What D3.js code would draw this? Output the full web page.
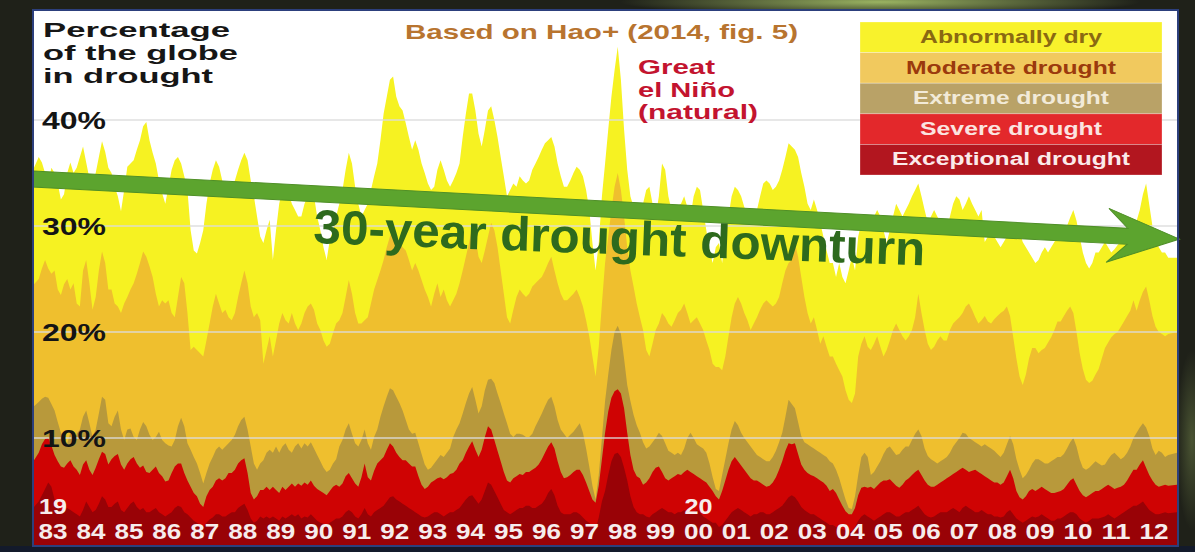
<!DOCTYPE html>
<html>
<head>
<meta charset="utf-8">
<title>Percentage of the globe in drought</title>
<script src="https://cdn.jsdelivr.net/npm/d3@7"></script>
<style>
    html, body { margin: 0; padding: 0; background: #1d1f17; }
    svg { display: block; }
    text { font-family: "Liberation Sans", Arial, sans-serif; font-weight: bold; }
</style>
</head>
<body>
<svg id="chart" width="1195" height="552"></svg>
<script>
// Monthly share of the globe (%) in each class or worse, Jan 1983 - Dec 2012 (one row per year)
const abnormallyDry = [
    35.5, 36.5, 36, 35, 34, 35.5, 35, 34, 32.5, 33, 35, 36,
    35, 35.5, 36.5, 37.5, 36, 34.5, 34, 35, 36.5, 38, 37, 35.5,
    35, 33.7, 32.8, 31.4, 33.4, 35.6, 35.9, 36.2, 37.2, 38.1, 39.4, 39.8,
    38.1, 36.9, 35.9, 34.3, 33.1, 32.1, 33.7, 35.3, 36.2, 36.5, 35.9, 34.7,
    33.4, 29.6, 27.7, 27.4, 28.4, 29.6, 32.1, 34, 35.3, 36.2, 35.6, 34.3,
    32.8, 33.1, 33.7, 34.3, 35.3, 36.2, 36.9, 36.2, 34.3, 32.8, 30.9, 29,
    28.4, 29.6, 30.6, 26.8, 29.6, 32.1, 33.4, 33.7, 33.1, 32.1, 31.5, 30.9,
    30.9, 32.1, 32.8, 33.4, 32.8, 30.9, 29.6, 28, 26.8, 28.7, 29.6, 30.9,
    32.1, 33.4, 35.3, 36.9, 35.9, 33.7, 32.1, 30.9, 31.5, 32.1, 33.4, 34.7,
    35.9, 38.1, 40.6, 42.2, 43.8, 44.1, 42.2, 41.3, 40.9, 39.7, 38.4, 37.2,
    38.1, 37.2, 35.9, 35, 34, 33.4, 33.7, 35.3, 36.2, 35.3, 34.3, 33.7,
    34.3, 35, 35.9, 38.4, 40.6, 42.5, 42.5, 40.9, 38.7, 37.5, 39.1, 40.9,
    41.3, 40, 38.4, 36.5, 34.7, 32.8, 33.4, 34, 33.7, 34.7, 34.3, 34,
    34.3, 35.3, 35.9, 36.5, 37.2, 37.8, 38.1, 38.4, 37.5, 35.9, 34.7, 33.7,
    33.7, 34.3, 35, 35.6, 35.3, 34.7, 33.4, 31.5, 28.4, 25.8, 28.4, 32.8,
    35.9, 39.1, 42.2, 44.7, 46.9, 43.8, 39.1, 35.3, 32.8, 31.8, 30.9, 31.5,
    32.1, 33.4, 33.7, 32.1, 30.9, 32.8, 35.9, 35.3, 32.8, 31.5, 30.9, 31.9,
    32.1, 32.8, 31.8, 30.9, 32.8, 33.7, 33.4, 31.5, 29.6, 27.7, 26.5, 28,
    28.4, 26.5, 29, 30.9, 32.8, 33.7, 33.4, 32.8, 31.8, 30.9, 30.3, 30.9,
    31.5, 32.8, 34, 34.3, 34, 33.4, 33.7, 34.3, 35.3, 36.5, 37.8, 37.5,
    37.2, 36.5, 35, 33.7, 32.1, 31.5, 32.5, 31.5, 30.3, 29, 27.7, 26.5,
    26.5, 25.2, 26.5, 25.2, 24.6, 25.8, 27.1, 25.8, 29, 30.3, 30.9, 30.3,
    29.6, 30.9, 31.5, 30.9, 29.6, 28.4, 29.6, 30.9, 32.1, 31.5, 30.9, 31.5,
    32.1, 32.8, 33.4, 34, 32.8, 31.5, 30.3, 30.9, 31.5, 30.9, 30.3, 29.6,
    29.6, 30.9, 32.1, 32.8, 32.5, 31.5, 32.1, 32.8, 32.1, 31.5, 30.9, 31.5,
    28.5, 29, 29.5, 29, 28.5, 28, 28.5, 29, 29.5, 30, 30.2, 29.5,
    28.5, 28, 27.5, 27, 26.5, 26.8, 27.5, 28, 27.5, 28, 28.5, 29,
    29, 29.5, 30, 30.8, 31.5, 30.5, 29, 27.5, 26.5, 26, 26.5, 27.5,
    27.5, 28, 28.5, 28, 27.5, 27.8, 28.2, 28.5, 29, 29.5, 30, 30.5,
    30.5, 31.5, 33, 34, 32, 30, 29, 28, 27.5, 27.5, 27, 27
];

const moderate = [
    24.5, 25, 26, 26.8, 26, 25.5, 25.8, 24, 23.5, 24.5, 25, 24,
    24.6, 22.7, 22.4, 25.8, 26.8, 24.6, 22.1, 23.3, 25.8, 27.6, 26.5, 24,
    24, 22.7, 22.4, 21.8, 22.7, 23.3, 24, 24.6, 25.5, 26.5, 27.6, 27.1,
    26.2, 25.2, 23.6, 22.4, 23, 22.7, 23, 21.8, 21.4, 23.3, 25.2, 24.6,
    21.8, 18.3, 18.6, 18.3, 18, 17.7, 19.2, 20.8, 22.4, 23.6, 22.7, 21.8,
    22.1, 21.4, 21.1, 21.8, 23.3, 24.6, 25.8, 24.6, 22.4, 21.4, 21.8, 21.1,
    17, 18.3, 19.6, 17.7, 19.2, 20.8, 21.8, 21.1, 20.8, 21.8, 20.8, 20.2,
    20.8, 21.8, 22.4, 22.7, 22.1, 20.8, 20.2, 19.2, 18.6, 18.9, 19.9, 20.8,
    21.1, 21.8, 23.3, 24.9, 23.6, 21.8, 20.8, 20.8, 21.1, 21.4, 22.7, 24,
    24.9, 25.8, 26.8, 28, 29, 29.6, 28.7, 28.4, 28, 27.7, 26.8, 25.8,
    26.5, 25.8, 24.9, 24, 23.3, 22.4, 23.6, 24.6, 23.3, 24, 23, 22.4,
    23, 23.6, 24.6, 25.8, 27.1, 28.4, 29.9, 29, 27.1, 26.5, 27.7, 29,
    30.3, 29.6, 28, 25.8, 23.6, 21.4, 20.8, 22.1, 23.3, 24, 23.6, 23.3,
    23.6, 24.3, 24.6, 24.9, 25.2, 25.8, 26.5, 27.1, 25.8, 24.6, 23.6, 23,
    23, 23.3, 23.6, 24, 23.3, 22.4, 21.1, 19.6, 17.7, 15.8, 18.6, 22.7,
    26.5, 29, 31.5, 33.7, 35, 33.4, 30.9, 28, 25.8, 24.3, 22.7, 21.4,
    20.2, 18.3, 17.7, 18.9, 20.2, 20.8, 21.8, 21.4, 20.8, 20.5, 21.1, 21.8,
    22.1, 22.7, 21.8, 20.8, 21.1, 21.4, 20.8, 20.2, 19.2, 18.3, 17, 16.7,
    16.7, 16.4, 17.7, 19.6, 21.4, 22.7, 23.3, 22.7, 21.8, 21.1, 20.2, 20.8,
    21.4, 22.1, 22.7, 23, 22.7, 22.4, 22.7, 23.3, 24.6, 25.8, 26.5, 26.8,
    28.4, 27.1, 25.2, 23.3, 21.8, 20.8, 21.4, 20.2, 18.9, 19.6, 18.6, 17.7,
    17.7, 17, 16.4, 15.8, 14.5, 13.6, 13.3, 14.2, 17.7, 18.9, 19.6, 18.6,
    18.3, 18.9, 19.6, 18.6, 17.7, 18.3, 19.2, 20.2, 20.8, 20.2, 19.6, 19.2,
    19.6, 20.2, 21.4, 23.6, 21.8, 20.2, 18.9, 18.3, 18.6, 19.2, 19.6, 19.2,
    19.2, 20.2, 20.8, 21.1, 21.4, 21.8, 22.4, 22.7, 22.1, 21.4, 20.8, 21.1,
    21.5, 21, 20.8, 21.2, 21.5, 21.8, 22, 22.4, 21.5, 19.5, 17.5, 15.8,
    15, 16, 17.5, 18.5, 18.5, 18, 18.3, 18.5, 19, 19.5, 20.2, 21,
    21, 21.5, 22, 22.4, 21.8, 20, 18, 16.5, 15.5, 15.2, 15.4, 16,
    16.5, 17.5, 18.5, 19, 19.5, 19.8, 20, 20.5, 21, 21.5, 22, 23,
    22, 23, 23.8, 24.3, 23, 21.5, 20.5, 20, 19.8, 19.6, 19.8, 20
];

const extreme = [
    13, 13.4, 13.7, 13.9, 13.8, 13.2, 12.6, 11.5, 10.5, 9.8, 9.5, 10.5,
    9.5, 10.4, 10.8, 12, 12.6, 11.4, 10.1, 10.8, 12.3, 13.9, 13.6, 11.4,
    11.1, 12, 12.6, 10.8, 9.8, 10.8, 10.9, 10.1, 9.8, 10.8, 11.5, 11.1,
    10.3, 9.8, 10.1, 10.6, 9.8, 9.5, 9.3, 9.2, 9.8, 11.1, 11.9, 11.1,
    9.5, 8.9, 8.2, 7.6, 6.7, 5.7, 6.7, 7.6, 8.2, 8.9, 9.2, 8.9,
    9.2, 9.5, 9.8, 10.3, 11.1, 11.7, 12, 10.8, 9.2, 7.6, 7, 7.6,
    7.9, 8.6, 8.9, 8.6, 9.2, 8.6, 9.2, 9.5, 8.9, 8.6, 9.2, 9.5,
    9, 9.5, 9.2, 9.6, 9, 8.4, 7.8, 7.2, 6.8, 7, 7.6, 8,
    9.2, 9.8, 10.8, 11.4, 10.4, 9.5, 9.2, 9.8, 10.8, 9.5, 8.9, 10.1,
    10.8, 12, 13, 13.9, 14.7, 14.5, 13.9, 13.3, 12.6, 11.7, 10.8, 10.4,
    10.5, 9.5, 8.5, 7.5, 7, 7.2, 7.6, 8, 8.4, 8.2, 8.6, 9,
    10.1, 10.8, 11.4, 12.3, 13.3, 14.2, 14.8, 13.6, 12.3, 13, 14.5, 15.5,
    15.6, 15.2, 14.2, 13.3, 12.3, 11.4, 10.4, 10.1, 10.4, 10.4, 10.3, 10.1,
    10.1, 10.4, 11.1, 11.7, 12.3, 13, 13.6, 13.9, 13, 11.7, 10.8, 10.4,
    10, 10.3, 10.6, 11, 11.4, 10.5, 9, 7.3, 5.5, 4.2, 6.5, 10,
    13.5, 16, 18.3, 20, 20.6, 19.8, 17.5, 15, 13.5, 12.2, 11.2, 10.5,
    9.6, 9, 9.2, 9.6, 10, 10.5, 10.2, 9.5, 8.8, 8.6, 8.4, 8.6,
    8.4, 9, 10, 10.5, 10, 9.4, 9.2, 9, 8.6, 7.6, 6.3, 5.2,
    5, 6.5, 8, 9.5, 10.8, 11.6, 11.2, 10.5, 10, 9.6, 9.2, 8.8,
    8.4, 8.2, 8, 7.8, 7.8, 8.2, 8.8, 9.6, 10.5, 12, 13.6, 13.2,
    12.8, 11.5, 10.2, 9.6, 9.4, 9.2, 9, 8.8, 8.6, 8.4, 8.2, 7.8,
    7.6, 7, 6.2, 5.2, 4.2, 3.4, 3.3, 4.5, 6.5, 8.2, 8.6, 8.2,
    6.5, 6.8, 7.3, 7.8, 8.5, 9, 9.2, 8.8, 8.4, 8.5, 8.9, 9.2,
    9.2, 9.8, 10.4, 10.8, 10.2, 9, 8.3, 8, 7.8, 7.6, 7.8, 8,
    8.2, 8.6, 9.2, 9.6, 10, 10.5, 10.4, 10, 9.8, 9.6, 9.4, 9.2,
    9.4, 9.2, 9, 8.8, 8.5, 8.2, 8.6, 9.4, 10.2, 9.4, 8, 7,
    6.2, 6.5, 7, 7.6, 8, 8, 7.8, 7.6, 7.6, 7.8, 8, 8.2,
    8.2, 8.5, 9, 9.6, 10, 9.2, 8, 7.2, 7, 7.2, 7.5, 7.8,
    7.6, 7.4, 7.5, 8, 8.4, 8.6, 8.3, 8, 8.2, 8.6, 9.2, 10,
    10.5, 11, 11.4, 11, 10.2, 9, 8.4, 8.8, 8.6, 8.2, 8.4, 8.6
];

const severe = [
    7.9, 8.6, 9.4, 9.9, 10, 9.3, 8.4, 7.8, 7.3, 7.2, 7.6, 7.9,
    7.3, 7, 6.5, 7.5, 7.9, 7, 6.5, 7.2, 8, 8.7, 8.5, 7.5,
    8, 8.3, 8.5, 7.5, 7, 7.6, 8, 8.2, 7.6, 7.2, 7.4, 6.8,
    6.7, 7, 7.3, 6.7, 6.4, 5.9, 6, 6.7, 7.3, 7.6, 7.6, 6.7,
    6, 5.4, 4.8, 4.5, 3.8, 3.5, 4.5, 5.1, 5.4, 6, 6.2, 6,
    6.2, 6.7, 6.7, 7, 7.6, 7.9, 8.1, 6.7, 4.8, 4.2, 4.5, 5.1,
    5.1, 5.4, 5.1, 5.4, 5.1, 4.8, 5.4, 5.1, 5.4, 5.7, 5.4, 5.7,
    5.5, 5.8, 5.6, 6, 5.5, 5.2, 5, 4.8, 4.6, 5, 5.4, 5.6,
    5.4, 5.7, 6.4, 6.7, 6.2, 5.7, 5.4, 6.3, 7.6, 6.3, 6, 6.9,
    7.6, 7.9, 8.2, 8.9, 9.5, 9.2, 8.6, 8.2, 7.9, 7.9, 7.6, 7.3,
    7.3, 6.4, 5.6, 5.2, 5.4, 5.8, 6, 6.2, 6.3, 6.1, 6.3, 6.6,
    6.7, 7, 7.6, 7.9, 8.6, 9.2, 9.7, 8.9, 8.2, 8.9, 10.1, 11.1,
    10.8, 9.8, 8.8, 7.8, 6.8, 6, 5.8, 6.2, 6.4, 6.6, 6.5, 6.8,
    6.8, 7, 7.2, 7.5, 8, 8.6, 9.2, 9.6, 9, 7.8, 6.8, 6.2,
    6.3, 6.5, 6.8, 7, 7, 6.5, 5.8, 5, 4.2, 3.9, 5.5, 8,
    10.5, 12.5, 13.8, 14.4, 14.6, 14.2, 12.8, 10.5, 8.4, 7, 6.4, 6.2,
    5.6, 5.8, 6.2, 6.8, 7.2, 7.3, 6.8, 6.2, 6, 6.2, 6.4, 6.6,
    6.5, 6.8, 7, 6.8, 6.6, 6.4, 6.2, 6, 5.8, 5.4, 5, 4.5,
    4.2, 5, 6, 7, 7.8, 8.2, 7.8, 7.4, 7, 6.6, 6.2, 6,
    6, 5.8, 5.6, 5.4, 5.5, 5.8, 6.3, 7, 7.8, 8.8, 9.5, 9.4,
    9.5, 8.5, 7.5, 7, 6.7, 6.5, 6.4, 6.2, 6, 5.8, 5.5, 5,
    5.2, 4.8, 4.2, 3.6, 3.1, 2.8, 2.8, 3.4, 4.6, 5.3, 5.4, 5.3,
    5.4, 5.2, 5.5, 5.8, 6, 6, 6.1, 5.8, 5.5, 5.3, 5.6, 6,
    6.2, 6.5, 6.8, 7, 6.5, 6, 5.6, 5.4, 5.4, 5.6, 5.8, 6,
    6.2, 6.4, 6.6, 6.8, 7, 7.2, 7, 6.8, 6.9, 7, 6.8, 6.6,
    6.4, 6.2, 6, 5.8, 5.8, 5.6, 5.8, 6.4, 7, 6.2, 5, 4.4,
    4.2, 4.5, 5, 5.2, 5, 5.2, 5.4, 5.2, 5, 4.8, 4.8, 4.9,
    5, 5.2, 5.6, 6, 6.2, 5.6, 5, 4.6, 4.4, 4.6, 4.8, 5,
    5, 5.2, 5.4, 5.6, 5.4, 5.2, 5.3, 5.4, 5.6, 6, 6.5, 7,
    7, 7.5, 7.9, 7.2, 6.5, 6, 5.6, 5.4, 5.5, 5.6, 5.5, 5.6
];

const exceptional = [
    3.5, 4, 4.6, 5.2, 5.8, 5.4, 4.2, 3.6, 3.2, 3.2, 3.4, 3.2,
    3, 2.8, 2.6, 3.2, 4, 3.5, 3, 3.2, 3.8, 4.5, 4.2, 3.5,
    3.5, 3.8, 4, 3.2, 3, 3.4, 3.8, 4, 3.5, 3.2, 3.4, 3,
    3, 3.2, 3.4, 3, 2.8, 2.6, 2.8, 3, 3.4, 3.6, 3.5, 3,
    2.8, 2.5, 2.2, 2, 1.8, 1.6, 2, 2.3, 2.5, 2.8, 2.8, 2.6,
    2.6, 2.8, 3, 3, 3.4, 3.6, 3.8, 3.2, 2.4, 2, 2.2, 2.6,
    2.4, 2.6, 2.4, 2.6, 2.4, 2.2, 2.6, 2.4, 2.6, 2.8, 2.6, 2.8,
    2.4, 2.6, 2.5, 2.8, 2.5, 2.2, 2, 1.9, 1.8, 2, 2.2, 2.4,
    2.4, 2.6, 3, 3.2, 3, 2.6, 2.4, 2.8, 3.4, 2.8, 2.6, 3,
    3.2, 3.4, 3.6, 4, 4.4, 4.5, 4.2, 4, 3.8, 3.6, 3.4, 3.2,
    3, 2.8, 2.6, 2.5, 2.6, 2.8, 3, 3, 2.8, 2.6, 2.8, 3,
    3, 3.2, 3.4, 3.8, 4.2, 4.5, 4.6, 4.2, 3.8, 4.2, 5, 5.8,
    5.6, 5, 4.4, 3.8, 3.2, 3, 2.8, 3, 3.2, 3.4, 3.4, 3.6,
    3.6, 3.4, 3.4, 3.6, 3.8, 4.2, 4.8, 5.2, 4.6, 3.6, 3, 2.8,
    2.8, 2.8, 3, 3, 2.8, 2.5, 2.2, 2, 1.6, 1.4, 2.5, 4,
    5, 6.5, 7.8, 8.5, 8.6, 8.2, 7.2, 6, 4.5, 3.5, 3, 2.8,
    2.8, 2.6, 2.5, 2.8, 3, 3.2, 3.4, 3.2, 3, 3, 2.8, 3,
    3, 3.2, 3, 2.8, 3, 3.2, 3, 2.6, 2.4, 2.2, 2, 2,
    1.6, 1.8, 2.2, 2.6, 3, 3.2, 3.4, 3.2, 3, 2.8, 2.6, 2.8,
    2.8, 3, 3, 2.8, 2.8, 3, 3.2, 3.4, 3.6, 4, 4.4, 4.6,
    4.4, 4, 3.5, 3.2, 3, 2.8, 2.8, 2.6, 2.4, 2.2, 2, 1.8,
    1.8, 1.6, 1.5, 1.4, 1.3, 1.2, 1.2, 1.6, 2.2, 2.6, 2.8, 2.6,
    2.4, 2.2, 2.4, 2.6, 2.8, 3, 3, 2.8, 2.6, 2.6, 2.8, 3,
    3, 3.2, 3.4, 3.6, 3.2, 2.8, 2.6, 2.5, 2.6, 2.8, 3, 3,
    3, 3.2, 3.4, 3.2, 3, 3.4, 3.6, 3.4, 3.2, 3, 3, 3.2,
    3, 2.8, 2.8, 2.6, 2.6, 2.5, 2.6, 3, 3.2, 2.8, 2.4, 2.2,
    2, 2.2, 2.4, 2.6, 2.5, 2.6, 2.8, 2.6, 2.4, 2.2, 2.2, 2.4,
    2.4, 2.6, 2.8, 3, 3, 2.8, 2.4, 2.2, 2, 2.2, 2.4, 2.4,
    2.4, 2.5, 2.6, 2.8, 2.6, 2.4, 2.6, 2.8, 3, 3.2, 3.4, 3.6,
    3.6, 3.8, 4, 3.6, 3.2, 3, 2.8, 2.8, 2.9, 3, 2.9, 3
];

const startYear = 1983;
const yearLabels = ['83', '84', '85', '86', '87', '88', '89', '90', '91', '92', '93', '94', '95', '96', '97',
    '98', '99', '00', '01', '02', '03', '04', '05', '06', '07', '08', '09', '10', '11', '12'];
const centuryLabels = [{ year: 1983, text: '19' }, { year: 2000, text: '20' }];
const yTicks = [10, 20, 30, 40];

const legendLabels = ['Abnormally dry', 'Moderate drought', 'Extreme drought', 'Severe drought', 'Exceptional drought'];
const titleLines = ['Percentage', 'of the globe', 'in drought'];
const ninoLines = ['Great', 'el Niño', '(natural)'];

// ---- layout ----
const W = 1195, H = 552;
const panel = { left: 33, top: 10, right: 1178, bottom: 546 };
const plot = { left: 34, right: 1177, bottom: 544 };

const svg = d3.select('#chart');
const defs = svg.append('defs');

// dark slide background with a green glow at the top edge
const glow = defs.append('radialGradient').attr('id', 'glow')
    .attr('cx', 0.5).attr('cy', 0.5).attr('r', 0.5);
glow.append('stop').attr('offset', '0%').attr('stop-color', '#a8c46a').attr('stop-opacity', 0.9);
glow.append('stop').attr('offset', '100%').attr('stop-color', '#a8c46a').attr('stop-opacity', 0);

svg.append('rect').attr('width', W).attr('height', H).attr('fill', '#1f2119');
svg.append('ellipse').attr('cx', 880).attr('cy', 2).attr('rx', 260).attr('ry', 14).attr('fill', 'url(#glow)');
svg.append('ellipse').attr('cx', 1192).attr('cy', 440).attr('rx', 16).attr('ry', 90).attr('fill', 'url(#glow)').attr('opacity', 0.35);
svg.append('rect').attr('x', 0).attr('y', 546).attr('width', W).attr('height', 6).attr('fill', '#131a2b');

// white panel
svg.append('rect')
    .attr('x', panel.left).attr('y', panel.top)
    .attr('width', panel.right - panel.left).attr('height', panel.bottom - panel.top)
    .attr('fill', '#ffffff');

defs.append('clipPath').attr('id', 'plot-clip').append('rect')
    .attr('x', panel.left).attr('y', panel.top)
    .attr('width', panel.right - panel.left).attr('height', plot.bottom - panel.top + 2);

// ---- scales ----
const x = d3.scaleLinear().domain([startYear, startYear + 30]).range([plot.left, 1173]);
const y = d3.scaleLinear().domain([0, 40]).range([plot.bottom, 120]);

const n = abnormallyDry.length;
const monthX = i => {
    if (i === 0) return plot.left;
    if (i === n - 1) return plot.right;
    return x(startYear + (i + 0.5) / 12);
};

const series = [
    { name: 'abnormallyDry', values: abnormallyDry, color: '#f6f222' },
    { name: 'moderate', values: moderate, color: '#efbf2e' },
    { name: 'extreme', values: extreme, color: '#b8993b' },
    { name: 'severe', values: severe, color: '#cf0303' },
    { name: 'exceptional', values: exceptional, color: '#990206' }
];

const area = d3.area()
    .x((d, i) => monthX(i))
    .y0(plot.bottom + 2)
    .y1(d => y(d))
    .curve(d3.curveLinear);

const plotG = svg.append('g').attr('clip-path', 'url(#plot-clip)');
plotG.selectAll('path.layer')
    .data(series)
    .enter().append('path')
    .attr('class', 'layer')
    .attr('fill', d => d.color)
    .attr('d', d => area(d.values));

// gridlines over the areas
plotG.selectAll('line.grid')
    .data(yTicks)
    .enter().append('line')
    .attr('class', 'grid')
    .attr('x1', plot.left).attr('x2', plot.right)
    .attr('y1', d => y(d)).attr('y2', d => y(d))
    .attr('stroke', '#dcdcdc')
    .attr('stroke-opacity', 0.9)
    .attr('stroke-width', 1.5);

// y labels
svg.selectAll('text.ylab')
    .data(yTicks)
    .enter().append('text')
    .attr('class', 'ylab')
    .attr('x', 42)
    .attr('y', d => y(d) + 8.5)
    .attr('font-size', 24)
    .attr('textLength', 64)
    .attr('lengthAdjust', 'spacingAndGlyphs')
    .attr('fill', '#141414')
    .text(d => d + '%');

// x labels (two-digit years centred on each year)
svg.selectAll('text.xlab')
    .data(yearLabels)
    .enter().append('text')
    .attr('class', 'xlab')
    .attr('x', (d, i) => x(startYear + i + 0.5))
    .attr('y', 539)
    .attr('text-anchor', 'middle')
    .attr('font-size', 22)
    .attr('textLength', 29)
    .attr('lengthAdjust', 'spacingAndGlyphs')
    .attr('fill', '#f6ecec')
    .text(d => d);

svg.selectAll('text.century')
    .data(centuryLabels)
    .enter().append('text')
    .attr('class', 'century')
    .attr('x', d => x(d.year + 0.5))
    .attr('y', 514)
    .attr('text-anchor', 'middle')
    .attr('font-size', 22)
    .attr('textLength', 28)
    .attr('lengthAdjust', 'spacingAndGlyphs')
    .attr('fill', '#f6ecec')
    .text(d => d.text);

// ---- trend arrow ----
const arrowStart = [33, 179];
const arrowAngle = 3;
const arrowLen = 1148;
const headPath = [
    [0, -8], [arrowLen - 52, -8], [arrowLen - 72, -27], [arrowLen, 0],
    [arrowLen - 72, 27], [arrowLen - 52, 8], [0, 8]
];
svg.append('path')
    .attr('transform', `translate(${arrowStart}) rotate(${arrowAngle})`)
    .attr('d', d3.line()(headPath) + 'Z')
    .attr('fill', '#5ca42e')
    .attr('stroke', '#4f8f27')
    .attr('stroke-width', 1);

svg.append('text')
    .attr('transform', 'translate(313,243) rotate(2.1)')
    .attr('font-size', 48)
    .attr('textLength', 612)
    .attr('lengthAdjust', 'spacingAndGlyphs')
    .attr('fill', '#2e6a1d')
    .text('30-year drought downturn');

// ---- titles ----
svg.selectAll('text.title')
    .data(titleLines)
    .enter().append('text')
    .attr('class', 'title')
    .attr('x', 43)
    .attr('y', (d, i) => 37 + i * 23)
    .attr('font-size', 20)
    .attr('textLength', (d, i) => [187, 195, 170][i])
    .attr('lengthAdjust', 'spacingAndGlyphs')
    .attr('fill', '#161616')
    .text(d => d);

svg.append('text')
    .attr('x', 405).attr('y', 39)
    .attr('font-size', 21)
    .attr('textLength', 393)
    .attr('lengthAdjust', 'spacingAndGlyphs')
    .attr('fill', '#b8742f')
    .text('Based on Hao+ (2014, fig. 5)');

svg.selectAll('text.nino')
    .data(ninoLines)
    .enter().append('text')
    .attr('class', 'nino')
    .attr('x', 638)
    .attr('y', (d, i) => 74 + i * 22.5)
    .attr('font-size', 19.5)
    .attr('textLength', (d, i) => [77, 97, 120][i])
    .attr('lengthAdjust', 'spacingAndGlyphs')
    .attr('fill', '#c3142f')
    .text(d => d);

// ---- legend ----
const legend = { x: 860, y: 22, w: 302, rowH: 30.6 };
const legendFill = ['#f8f22c', '#f1c95e', '#b9a267', '#e3282b', '#b2161f'];
const legendInk = ['#8a6912', '#9b3a0d', '#f2ead8', '#fbe4e0', '#fbeaea'];
const legendWidth = [182, 210, 196, 182, 238];

const legendG = svg.append('g');
legendG.selectAll('rect')
    .data(legendLabels)
    .enter().append('rect')
    .attr('x', legend.x)
    .attr('y', (d, i) => legend.y + i * legend.rowH)
    .attr('width', legend.w)
    .attr('height', legend.rowH)
    .attr('fill', (d, i) => legendFill[i])
    .attr('stroke', 'rgba(255,255,255,0.35)')
    .attr('stroke-width', 0.8);

legendG.selectAll('text')
    .data(legendLabels)
    .enter().append('text')
    .attr('x', legend.x + legend.w / 2)
    .attr('y', (d, i) => legend.y + i * legend.rowH + 21)
    .attr('text-anchor', 'middle')
    .attr('font-size', 18)
    .attr('textLength', (d, i) => legendWidth[i])
    .attr('lengthAdjust', 'spacingAndGlyphs')
    .attr('fill', (d, i) => legendInk[i])
    .text(d => d);

// panel border
svg.append('rect')
    .attr('x', panel.left).attr('y', panel.top)
    .attr('width', panel.right - panel.left).attr('height', panel.bottom - panel.top)
    .attr('fill', 'none')
    .attr('stroke', '#2c3f7c')
    .attr('stroke-width', 2);
</script>
</body>
</html>
